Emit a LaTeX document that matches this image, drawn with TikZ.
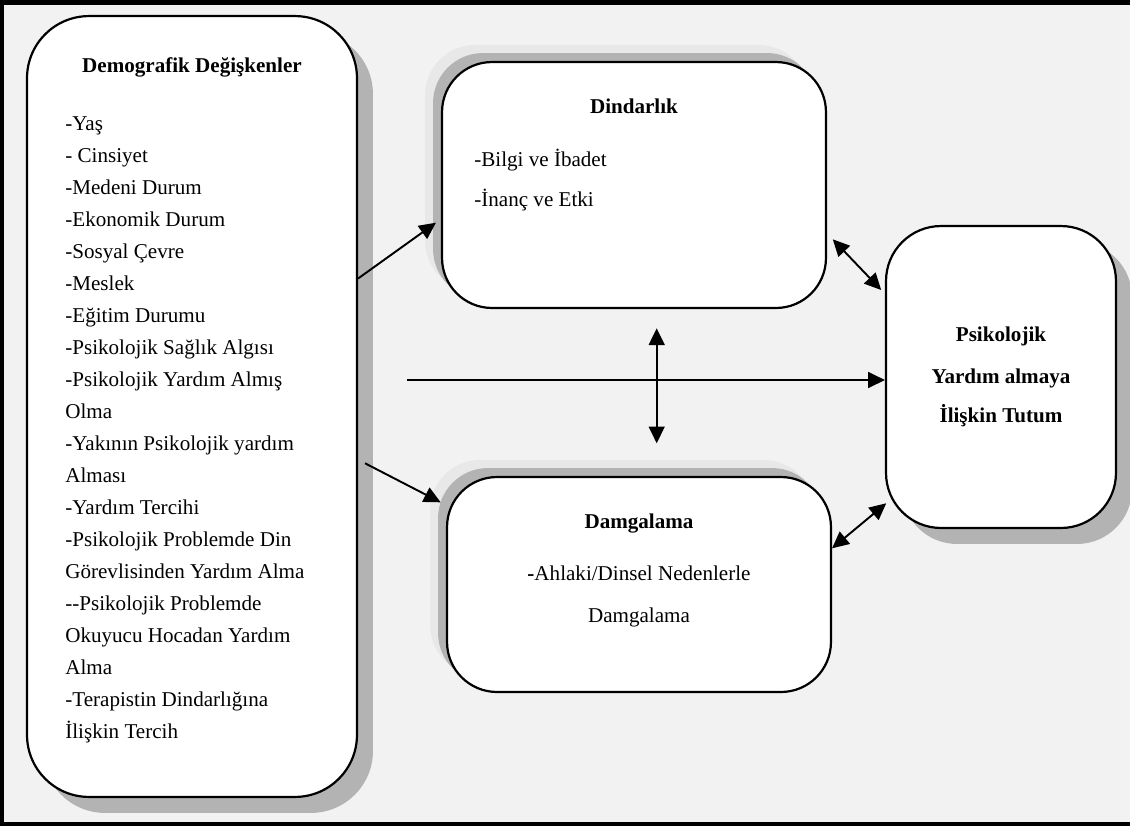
\documentclass[tikz,border=0pt]{standalone}
\usepackage{fontspec}
\setmainfont{Liberation Serif}
\usetikzlibrary{arrows.meta,shadows}
\definecolor{bg}{HTML}{F2F2F2}
\definecolor{shd}{HTML}{B3B3B3}
\definecolor{halo}{HTML}{E8E8E8}
\begin{document}
\begin{tikzpicture}[x=0.02cm,y=-0.02cm,
  box/.style={draw, line width=1.25pt, fill=white, inner sep=0pt},
  shadowrd/.style={drop shadow={shadow xshift=#1, shadow yshift=-#1, fill=shd, opacity=1}},
  shadowlu/.style={drop shadow={shadow xshift=-0.34cm, shadow yshift=0.34cm, fill=halo, opacity=1},
                   drop shadow={shadow xshift=-0.18cm, shadow yshift=0.18cm, fill=shd, opacity=1}},
  tip/.tip={Triangle[length=9.5pt,width=9pt]},
  arr/.style={line width=1.1pt, -tip},
  darr/.style={line width=1.1pt, tip-tip},
  txt/.style={font=\fontsize{12pt}{14pt}\selectfont, inner sep=0pt},
  ttl/.style={font=\fontsize{12pt}{14pt}\selectfont\bfseries, inner sep=0pt},
]
\useasboundingbox (0,0) rectangle (1130,826);
% frame
\fill[bg] (0,0) rectangle (1130,826);
\fill[black] (0,0) rectangle (4,826);
\fill[black] (0,0) rectangle (1130,4.5);
\fill[black] (0,822) rectangle (1130,826);

% boxes
\node[box, shadowrd=0.32cm, rounded corners=1.24cm, minimum width=6.6cm, minimum height=15.62cm] (demo) at (192,406.5) {};
\node[box, shadowlu, rounded corners=1cm, minimum width=7.68cm, minimum height=4.92cm] (dind) at (634,185) {};
\node[box, shadowlu, rounded corners=1cm, minimum width=7.68cm, minimum height=4.3cm] (damg) at (639,584.5) {};
\node[box, shadowrd=0.32cm, rounded corners=1.1cm, minimum width=4.6cm, minimum height=6.04cm] (psik) at (1001,377) {};

% left box texts
\node[ttl, anchor=base] (demot) at (192,72) {Demografik Değişkenler};
\foreach \t [count=\i] in {-Yaş, - Cinsiyet, -Medeni Durum, -Ekonomik Durum, -Sosyal Çevre, -Meslek,
  -Eğitim Durumu, -Psikolojik Sağlık Algısı, -Psikolojik Yardım Almış, Olma,
  -Yakının Psikolojik yardım, Alması, -Yardım Tercihi, -Psikolojik Problemde Din,
  Görevlisinden Yardım Alma, \mbox{-}\mbox{-}Psikolojik Problemde, Okuyucu Hocadan Yardım, Alma,
  -Terapistin Dindarlığına, İlişkin Tercih}
  \node[txt, anchor=base west] (l\i) at (65,{130+32*(\i-1)}) {\t};

% Dindarlik texts
\node[ttl, anchor=base] (dindt) at (634,113) {Dindarlık};
\node[txt, anchor=base west] (d1) at (474,166) {-Bilgi ve İbadet};
\node[txt, anchor=base west] (d2) at (474,206) {-İnanç ve Etki};

% Damgalama texts
\node[ttl, anchor=base] (damgt) at (639,528) {Damgalama};
\node[txt, anchor=base] (g1) at (639,580) {\textbf{-}Ahlaki/Dinsel Nedenlerle};
\node[txt, anchor=base] (g2) at (639,622) {Damgalama};

% Psikolojik texts
\node[ttl, anchor=base] (p1) at (1001,341) {Psikolojik};
\node[ttl, anchor=base] (p2) at (1001,383) {Yardım almaya};
\node[ttl, anchor=base] (p3) at (1001,422) {İlişkin Tutum};

% connectors
\coordinate (h0) at (406.7,380);
\coordinate (v1) at (656.7,328.3);
\coordinate (v2) at (656.7,443.3);
\draw[arr] ([yshift=2.56cm]demo.east) -- ([xshift=-0.1cm,yshift=-0.754cm]dind.west);
\draw[arr] ([xshift=0.14cm,yshift=-1.136cm]demo.east) -- ([xshift=-0.106cm,yshift=1.644cm]damg.west);
\draw[arr] (h0) -- (h0 -| psik.west);
\draw[darr] (v1) -- (v2);
\draw[darr] ([xshift=0.114cm,yshift=-1.086cm]dind.east) -- ([xshift=-0.074cm,yshift=1.74cm]psik.west);
\draw[darr] ([yshift=0.724cm]damg.east) -- ([xshift=0.026cm,yshift=-2.526cm]psik.west);
\end{tikzpicture}
\end{document}
